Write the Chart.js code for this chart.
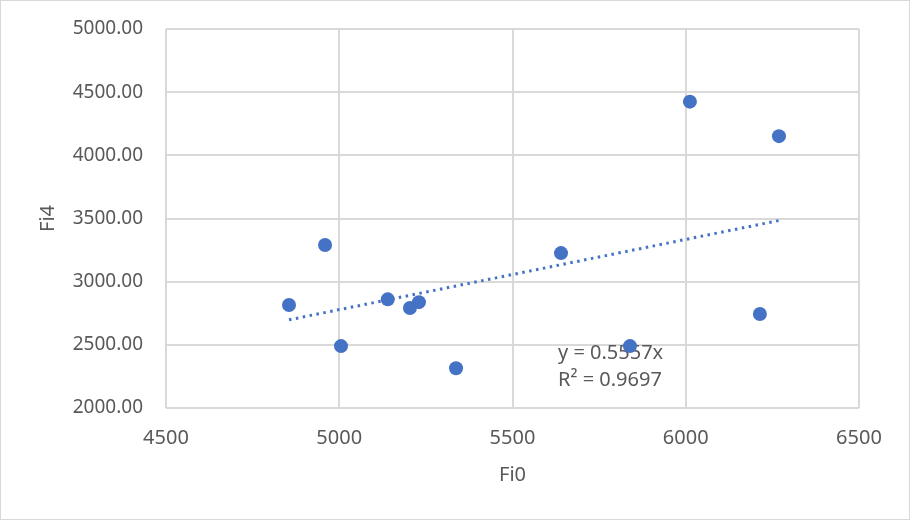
<!DOCTYPE html>
<html>
<head>
<meta charset="utf-8">
<script src="https://cdn.jsdelivr.net/npm/chart.js@4.4.0/dist/chart.umd.min.js"></script>
<style>
  html, body { margin: 0; padding: 0; background: #fff; }
  #wrap { width: 910px; height: 520px; position: relative; }
</style>
</head>
<body>
<div id="wrap"><canvas id="chart"></canvas></div>
<script>
// scatter values
const fi0 = [4855, 4959, 5005, 5140, 5204, 5230, 5337, 5640, 5839, 6012, 6214, 6269];
const fi4 = [2815, 3290, 2490, 2860, 2791, 2838, 2315, 3226, 2490, 4425, 2744, 4152];

// trendline endpoints (y = 0.5557x drawn from min to max x)
const trendX = [4855, 6269];
const trendY = [2698, 3484];

const xTicks = [4500, 5000, 5500, 6000, 6500];
const yTicks = [2000, 2500, 3000, 3500, 4000, 4500, 5000];
const trendText = ['y = 0.5557x', 'R\u00B2 = 0.9697'];

const blue = '#4472c4';
const grey = '#595959';
const gridColor = '#d9d9d9';
const font = 'Noto Sans';

const frame = {
  id: 'frame',
  beforeDraw(chart) {
    const ctx = chart.ctx;
    ctx.save();
    ctx.fillStyle = '#fff';
    ctx.fillRect(0, 0, chart.width, chart.height);
    ctx.restore();
  },
  afterDraw(chart) {
    const ctx = chart.ctx;
    ctx.save();
    ctx.strokeStyle = gridColor;
    ctx.lineWidth = 1;
    ctx.strokeRect(0.5, 0.5, chart.width - 1, chart.height - 1);
    ctx.restore();
  }
};

const trendLabel = {
  id: 'trendLabel',
  beforeDatasetsDraw(chart) {
    const ctx = chart.ctx;
    ctx.save();
    ctx.fillStyle = grey;
    ctx.font = '20px "' + font + '"';
    ctx.textBaseline = 'middle';
    ctx.textAlign = 'left';
    ctx.fillText(trendText[0], 558, 353);
    ctx.fillText(trendText[1], 558, 380);
    ctx.restore();
  }
};

new Chart(document.getElementById('chart'), {
  type: 'scatter',
  data: {
    datasets: [
      {
        label: 'Fi4',
        data: fi0.map((x, i) => ({ x: x, y: fi4[i] })),
        backgroundColor: blue,
        borderWidth: 0,
        pointRadius: 7,
        pointHoverRadius: 7
      },
      {
        label: 'Trend',
        data: trendX.map((x, i) => ({ x: x, y: trendY[i] })),
        showLine: true,
        borderColor: blue,
        borderWidth: 3,
        borderDash: [2.5, 4.5],
        pointRadius: 0,
        fill: false
      }
    ]
  },
  options: {
    responsive: true,
    maintainAspectRatio: false,
    animation: false,
    layout: { padding: { left: 36, right: 51, top: 29, bottom: 33 } },
    plugins: {
      legend: { display: false },
      tooltip: { enabled: false }
    },
    scales: {
      x: {
        type: 'linear',
        min: 4500,
        max: 6500,
        afterBuildTicks: s => { s.ticks = xTicks.map(v => ({ value: v })); },
        afterFit: s => { s.height = 79; s.paddingLeft = 0; s.paddingRight = 0; },
        grid: { color: gridColor, lineWidth: 2, drawTicks: false },
        border: { display: false },
        ticks: { color: grey, padding: 18, font: { family: font, size: 20 }, callback: v => String(v) },
        title: { display: true, text: 'Fi0', color: grey, padding: 0, font: { family: font, size: 20 } }
      },
      y: {
        type: 'linear',
        min: 2000,
        max: 5000,
        afterBuildTicks: s => { s.ticks = yTicks.map(v => ({ value: v })); },
        afterFit: s => { s.width = 130; s.paddingTop = 0; s.paddingBottom = 0; },
        grid: { color: gridColor, lineWidth: 2, drawTicks: false },
        border: { display: false },
        ticks: { color: grey, padding: 23, font: { family: font, size: 19 }, callback: v => v.toFixed(2) },
        title: { display: true, text: 'Fi4', color: grey, padding: 0, font: { family: font, size: 20 } }
      }
    }
  },
  plugins: [frame, trendLabel]
});
</script>
</body>
</html>
